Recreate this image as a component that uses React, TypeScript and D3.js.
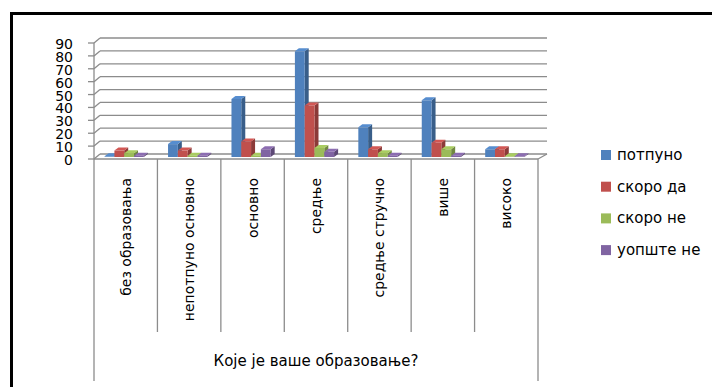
import React from "react";
import * as d3 from "d3";

const categories = [
  "без образовања",
  "непотпуно основно",
  "основно",
  "средње",
  "средње стручно",
  "више",
  "високо",
];
const seriesNames = ["потпуно", "скоро да", "скоро не", "уопште не"];
const potpuno = [0.5, 10, 45, 82, 23, 44, 6];
const skoroDa = [5, 5, 12, 40, 6, 11, 6];
const skoroNe = [3, 1, 1, 7, 3, 6, 0.5];
const uopsteNe = [1, 1, 6, 4, 1, 1, 0.5];
const seriesValues = [potpuno, skoroDa, skoroNe, uopsteNe];
const seriesColors = ["#4F81BD", "#C0504D", "#9BBB59", "#8064A2"];
const yTicks = [0, 10, 20, 30, 40, 50, 60, 70, 80, 90];
const axisTitle = "Које је ваше образовање?";

const W = 712;
const H = 387;

export default function App() {
  const font = "'DejaVu Sans', sans-serif";
  const grid = "#8c8c8c";

  // front plane and back plane scales (pseudo 3D)
  const xFront = d3.scaleBand<string>().domain(categories).range([94, 538]).padding(0);
  const xBack = d3.scaleLinear().domain([94, 538]).range([100, 547]);
  const yFront = d3.scaleLinear().domain([0, 90]).range([159, 43]);
  const yBack = d3.scaleLinear().domain([0, 90]).range([154, 38]);
  const yBar = d3.scaleLinear().domain([0, 90]).range([157, 41]);

  const bw = 9.8;
  const inner = d3
    .scaleBand<number>()
    .domain(d3.range(seriesValues.length))
    .range([0, bw * seriesValues.length]);
  const depthX = 4;
  const depthY = -3;

  const bars: React.ReactNode[] = [];
  categories.forEach((c, ci) => {
    const cx = (xFront(c) as number) + xFront.bandwidth() / 2;
    const gx = cx - inner.range()[1] / 2 - 1.5;
    seriesValues.forEach((vals, si) => {
      const v = vals[ci];
      const x0 = gx + (inner(si) as number);
      const x1 = x0 + inner.bandwidth();
      const yb = yBar(0);
      const yt = yBar(v);
      const base = d3.color(seriesColors[si])!;
      const side = base.darker(0.9).formatHex();
      const top = base.brighter(0.25).formatHex();
      bars.push(
        <g key={`${ci}-${si}`}>
          <polygon
            points={`${x1},${yb} ${x1 + depthX},${yb + depthY} ${x1 + depthX},${yt + depthY} ${x1},${yt}`}
            fill={side}
          />
          <polygon
            points={`${x0},${yt} ${x0 + depthX},${yt + depthY} ${x1 + depthX},${yt + depthY} ${x1},${yt}`}
            fill={top}
          />
          <rect x={x0} y={yt} width={x1 - x0} height={Math.max(0.5, yb - yt)} fill={seriesColors[si]} />
        </g>
      );
    });
  });

  const x0f = xFront.range()[0];
  const x1f = xFront.range()[1];

  return (
    <div style={{ position: "absolute", left: 0, top: 0 }}>
      <svg width={W} height={H} style={{ display: "block", background: "#fff" }}>
        {/* frame */}
        <line x1={11.5} y1={13} x2={11.5} y2={H} stroke="#000" strokeWidth={3} />
        <line x1={10} y1={13.5} x2={W} y2={13.5} stroke="#000" strokeWidth={3} />

        {/* gridlines */}
        {yTicks.map((t) => (
          <g key={t}>
            <line x1={x0f - 6} y1={yFront(t)} x2={x0f} y2={yFront(t)} stroke={grid} strokeWidth={1.3} />
            <line x1={x0f} y1={yFront(t)} x2={xBack(x0f)} y2={yBack(t)} stroke={grid} strokeWidth={1.3} />
            <line x1={xBack(x0f)} y1={yBack(t)} x2={xBack(x1f)} y2={yBack(t)} stroke={grid} strokeWidth={1.3} />
          </g>
        ))}
        {/* floor */}
        <line x1={x0f} y1={yFront(0)} x2={x1f} y2={yFront(0)} stroke={grid} strokeWidth={1.3} />
        <line x1={x1f} y1={yFront(0)} x2={xBack(x1f)} y2={yBack(0)} stroke={grid} strokeWidth={1.3} />
        {/* y axis */}
        <line x1={x0f} y1={yFront(90)} x2={x0f} y2={yFront(0)} stroke={grid} strokeWidth={1.3} />

        {/* y labels */}
        {yTicks.map((t) => (
          <text
            key={t}
            x={73}
            y={yFront(t) + 1}
            textAnchor="end"
            dominantBaseline="central"
            fontFamily={font}
            fontSize={14}
            fill="#000"
          >
            {t}
          </text>
        ))}

        {bars}

        {/* category dividers */}
        {categories.map((c, i) => (
          <line
            key={c}
            x1={xFront(c)}
            y1={yFront(0)}
            x2={xFront(c)}
            y2={i === 0 ? 381 : 332}
            stroke={grid}
            strokeWidth={1.3}
          />
        ))}
        <line x1={x1f} y1={yFront(0)} x2={x1f} y2={381} stroke={grid} strokeWidth={1.3} />

        {/* category labels */}
        {categories.map((c) => {
          const cx = (xFront(c) as number) + xFront.bandwidth() / 2 + 5;
          return (
            <text
              key={c}
              transform={`translate(${cx},178) rotate(-90)`}
              textAnchor="end"
              fontFamily={font}
              fontSize={14}
              fill="#000"
            >
              {c}
            </text>
          );
        })}

        {/* axis title */}
        <text
          x={(x0f + x1f) / 2}
          y={366}
          textAnchor="middle"
          fontFamily={font}
          fontSize={15}
          fill="#000"
        >
          {axisTitle}
        </text>

        {/* legend */}
        {seriesNames.map((n, i) => {
          const y = 155 + i * 31.7;
          return (
            <g key={n}>
              <rect x={601} y={y - 5} width={10} height={10} fill={seriesColors[i]} />
              <text x={617} y={y} dominantBaseline="central" fontFamily={font} fontSize={15} fill="#000">
                {n}
              </text>
            </g>
          );
        })}
      </svg>
    </div>
  );
}
